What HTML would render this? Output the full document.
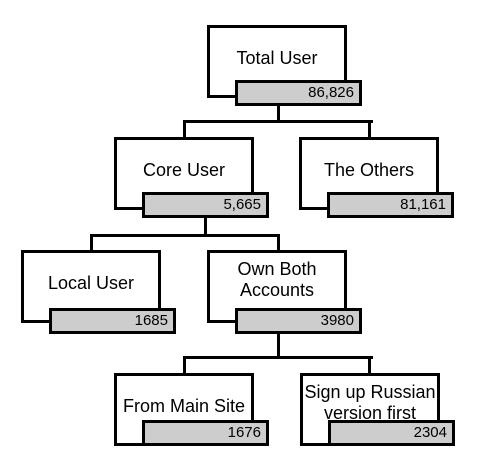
<!DOCTYPE html>
<html><head><style>
body{margin:0;background:#fff;width:480px;height:464px;position:relative;overflow:hidden;font-family:"Liberation Sans",sans-serif}
.b{position:absolute;border:3px solid #000;background:#fff;box-sizing:border-box;width:140px;height:73px;font-size:18px;text-align:center;line-height:21px;white-space:nowrap}
.g{position:absolute;border:3px solid #000;background:#cdcdcd;box-sizing:border-box;width:127px;height:26px;font-size:15px;text-align:right;padding-right:5px;line-height:20px}
.l{position:absolute;background:#000}
</style></head><body>
<div class="l" style="left:277px;top:104px;width:3px;height:19px"></div>
<div class="l" style="left:183px;top:120px;width:190px;height:3px"></div>
<div class="l" style="left:183px;top:120px;width:3px;height:19px"></div>
<div class="l" style="left:368px;top:120px;width:3px;height:19px"></div>
<div class="l" style="left:204px;top:216px;width:3px;height:20px"></div>
<div class="l" style="left:90px;top:234px;width:190px;height:3px"></div>
<div class="l" style="left:90px;top:234px;width:3px;height:18px"></div>
<div class="l" style="left:277px;top:234px;width:3px;height:18px"></div>
<div class="l" style="left:277px;top:331px;width:3px;height:27px"></div>
<div class="l" style="left:183px;top:356px;width:190px;height:3px"></div>
<div class="l" style="left:183px;top:356px;width:3px;height:19px"></div>
<div class="l" style="left:368px;top:356px;width:3px;height:19px"></div>

<div class="b" style="left:207px;top:25px;padding-top:20px">Total User</div>
<div class="g" style="left:235px;top:80px">86,826</div>
<div class="b" style="left:114px;top:137px;padding-top:20px">Core User</div>
<div class="g" style="left:142px;top:192px">5,665</div>
<div class="b" style="left:299px;top:137px;padding-top:20px">The Others</div>
<div class="g" style="left:327px;top:192px">81,161</div>
<div class="b" style="left:21px;top:250px;padding-top:20px">Local User</div>
<div class="g" style="left:49px;top:308px">1685</div>
<div class="b" style="left:207px;top:250px;padding-top:6px">Own Both<br>Accounts</div>
<div class="g" style="left:235px;top:308px">3980</div>
<div class="b" style="left:114px;top:373px;padding-top:20px">From Main Site</div>
<div class="g" style="left:142px;top:420px">1676</div>
<div class="b" style="left:300px;top:373px;padding-top:6px;overflow:hidden">Sign up Russian<br>version first</div>
<div class="g" style="left:328px;top:420px">2304</div>
</body></html>
